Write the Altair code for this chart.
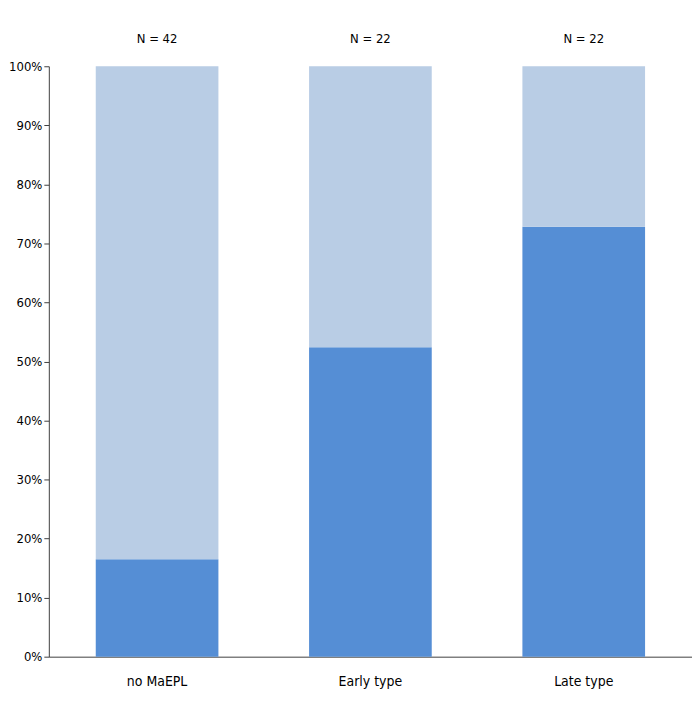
import altair as alt
import pandas as pd

categories = ["no MaEPL", "Early type", "Late type"]
n_labels = ["N = 42", "N = 22", "N = 22"]
dark_share = [0.165, 0.524, 0.728]

rows = []
for c, d in zip(categories, dark_share):
    rows.append({"cat": c, "seg": "yes", "val": d, "ord": 0})
    rows.append({"cat": c, "seg": "no", "val": 1 - d, "ord": 1})
df = pd.DataFrame(rows)
ndf = pd.DataFrame({"cat": categories, "label": n_labels})

FONT = "DejaVu Sans Condensed, Liberation Sans, sans-serif"

xenc = alt.X("cat:N", sort=categories, title=None,
             scale=alt.Scale(paddingInner=0.425, paddingOuter=0.22),
             axis=alt.Axis(labelAngle=0, ticks=False, labelPadding=18,
                           domainColor="#404040", labelFont=FONT, labelFontSize=14,
                           labelColor="#000000"))

bars = alt.Chart(df).mark_bar().encode(
    x=xenc,
    y=alt.Y("val:Q", stack="zero", title=None,
            scale=alt.Scale(domain=[0, 1], nice=False),
            axis=alt.Axis(format=".0%", values=[i / 10 for i in range(11)],
                          tickSize=5, tickColor="#404040", domainColor="#404040",
                          grid=False, labelFont=FONT, labelFontSize=13,
                          labelColor="#000000", labelPadding=2)),
    color=alt.Color("seg:N", scale=alt.Scale(domain=["yes", "no"], range=["#558ED5", "#B9CDE5"]),
                    legend=None),
    order=alt.Order("ord:Q"),
)

texts = alt.Chart(ndf).mark_text(font=FONT, fontSize=13, color="#000000", baseline="middle").encode(
    x=alt.X("cat:N", sort=categories),
    y=alt.value(-27),
    text="label:N",
)

chart = (bars + texts).properties(
    width=646, height=593,
    autosize=alt.AutoSizeParams(type="none"),
    padding={"left": 41, "top": 57, "right": 0, "bottom": 44},
).configure_view(stroke=None)

chart.save("out.html", embed_options={"renderer": "svg", "actions": False})
